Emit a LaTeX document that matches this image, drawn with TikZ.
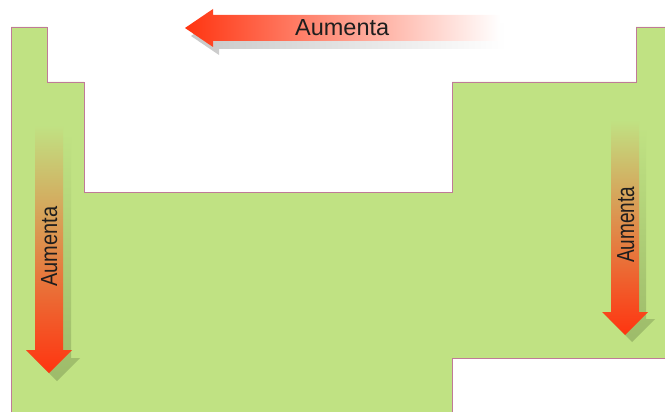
\documentclass[tikz,border=0pt]{standalone}
\usepackage{fontspec}
\setmainfont{Liberation Sans}
\usepackage{graphicx}
\definecolor{bg}{HTML}{C0E283}
\definecolor{edge}{HTML}{C07A98}
\definecolor{ared}{HTML}{FF3410}
\definecolor{aorange}{HTML}{F0682C}
\definecolor{hmid}{HTML}{F9663A}
\definecolor{shgreen}{HTML}{9DBB6A}
\definecolor{shgray}{HTML}{C8C8C8}
\definecolor{txt}{HTML}{1E1E1E}
\tikzset{
  table/.style={fill=bg, draw=edge, line width=0.8pt},
  lbl/.style={inner sep=0pt, text=txt},
  varrow/.style={top color=bg, middle color=aorange, bottom color=ared},
  vshadow/.style={top color=bg, middle color=shgreen!75!bg, bottom color=shgreen},
  harrow/.style={left color=ared, middle color=hmid, right color=white},
  hshadow/.style={left color=shgray, middle color=shgray!60!white, right color=white},
}
\begin{document}
\begin{tikzpicture}[x=1pt,y=-1pt]
\useasboundingbox (0,0) rectangle (665,412);
\clip (0,0) rectangle (665,412);
% table outline
\path[table] (11,430) -- (11,27) -- (47,27) -- (47,82) -- (84,82) -- (84,192)
  -- (452,192) -- (452,82) -- (636,82) -- (636,27) -- (680,27) -- (680,358)
  -- (452,358) -- (452,430) -- cycle;
% top arrow (shadow then arrow)
\path[hshadow] (191,36) -- (219,17) -- (219,23) -- (506,23) -- (506,49)
  -- (219,49) -- (219,55) -- cycle;
\path[harrow] (185,28) -- (213,9) -- (213,15) -- (500,15) -- (500,41)
  -- (213,41) -- (213,47) -- cycle;
\node[lbl, anchor=base west] (ttop) at (295,36) {\resizebox{94pt}{16pt}{Aumenta}};
% left vertical arrow
\path[vshadow] (43,133) -- (71,133) -- (71,358) -- (80,358) -- (57,381)
  -- (34,358) -- (43,358) -- cycle;
\path[varrow] (35,125) -- (63,125) -- (63,350) -- (72,350) -- (49,373)
  -- (26,350) -- (35,350) -- cycle;
\node[lbl, rotate=90, anchor=base west] (tleft) at (57,287) {\resizebox{80pt}{16pt}{Aumenta}};
% right vertical arrow
\path[vshadow] (618,127) -- (646,127) -- (646,319) -- (655,319) -- (632,342)
  -- (609,319) -- (618,319) -- cycle;
\path[varrow] (611,120) -- (639,120) -- (639,312) -- (648,312) -- (625,335)
  -- (602,312) -- (611,312) -- cycle;
\node[lbl, rotate=90, anchor=base west] (tright) at (634,263) {\resizebox{76pt}{17pt}{Aumenta}};
\end{tikzpicture}
\end{document}
